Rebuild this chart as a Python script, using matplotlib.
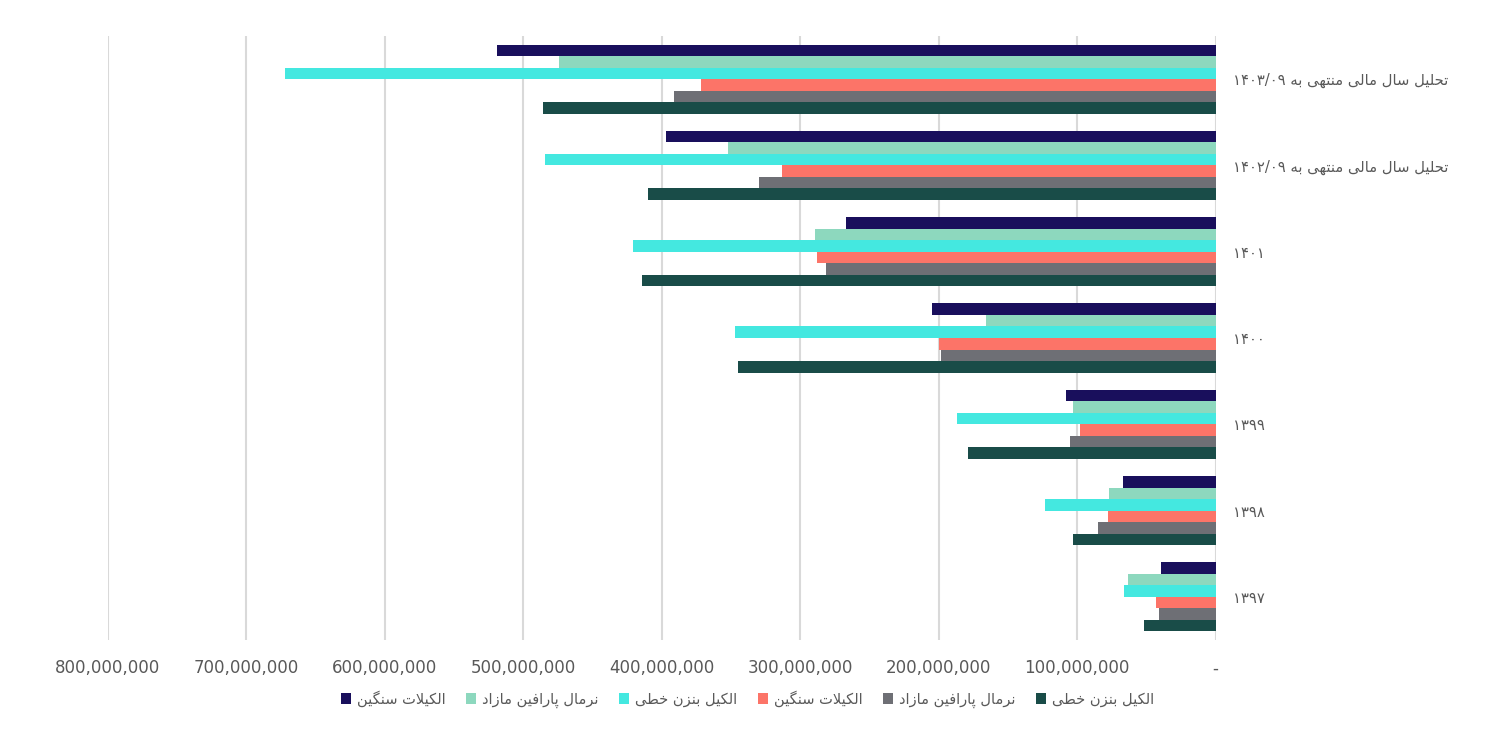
import matplotlib
matplotlib.use("Agg")
import matplotlib.pyplot as plt
import numpy as np

# ---------------- data ----------------
categories = ["۱۳۹۷", "۱۳۹۸", "۱۳۹۹", "۱۴۰۰", "۱۴۰۱",
              "تحلیل سال مالی منتهی به ۱۴۰۲/۰۹",
              "تحلیل سال مالی منتهی به ۱۴۰۳/۰۹"]

series_names = ["الکیل بنزن خطی", "نرمال پارافین مازاد", "الکیلات سنگین",
                "الکیل بنزن خطی", "نرمال پارافین مازاد", "الکیلات سنگین"]

s1_teal   = [52e6, 103e6, 179e6, 345e6, 414e6, 410e6, 486e6]
s2_gray   = [41e6, 85e6, 105e6, 198e6, 281e6, 330e6, 391e6]
s3_salmon = [43e6, 78e6, 98e6, 200e6, 288e6, 313e6, 372e6]
s4_cyan   = [66e6, 123e6, 187e6, 347e6, 421e6, 484e6, 672e6]
s5_mint   = [63e6, 77e6, 103e6, 166e6, 289e6, 352e6, 474e6]
s6_navy   = [39.5e6, 67e6, 108e6, 205e6, 267e6, 397e6, 519e6]

series_values = [s1_teal, s2_gray, s3_salmon, s4_cyan, s5_mint, s6_navy]
colors = ["#194C48", "#6E6F75", "#FC7468", "#44E8E0", "#8DD8BE", "#190F5C"]

xticks = [0, 100e6, 200e6, 300e6, 400e6, 500e6, 600e6, 700e6, 800e6]

# ---------------- simple Persian shaping ----------------
FORMS = {
    '\u0627': ('\uFE8D', '\uFE8E', None, None),
    '\u0628': ('\uFE8F', '\uFE90', '\uFE91', '\uFE92'),
    '\u067E': ('\uFB56', '\uFB57', '\uFB58', '\uFB59'),
    '\u062A': ('\uFE95', '\uFE96', '\uFE97', '\uFE98'),
    '\u062D': ('\uFEA1', '\uFEA2', '\uFEA3', '\uFEA4'),
    '\u062E': ('\uFEA5', '\uFEA6', '\uFEA7', '\uFEA8'),
    '\u062F': ('\uFEA9', '\uFEAA', None, None),
    '\u0631': ('\uFEAD', '\uFEAE', None, None),
    '\u0632': ('\uFEAF', '\uFEB0', None, None),
    '\u0633': ('\uFEB1', '\uFEB2', '\uFEB3', '\uFEB4'),
    '\u0637': ('\uFEC1', '\uFEC2', '\uFEC3', '\uFEC4'),
    '\u0641': ('\uFED1', '\uFED2', '\uFED3', '\uFED4'),
    '\u06A9': ('\uFB8E', '\uFB8F', '\uFB90', '\uFB91'),
    '\u06AF': ('\uFB92', '\uFB93', '\uFB94', '\uFB95'),
    '\u0644': ('\uFEDD', '\uFEDE', '\uFEDF', '\uFEE0'),
    '\u0645': ('\uFEE1', '\uFEE2', '\uFEE3', '\uFEE4'),
    '\u0646': ('\uFEE5', '\uFEE6', '\uFEE7', '\uFEE8'),
    '\u0647': ('\uFEE9', '\uFEEA', '\uFEEB', '\uFEEC'),
    '\u06CC': ('\uFBFC', '\uFBFD', '\uFBFE', '\uFBFF'),
    'LA':     ('\uFEFB', '\uFEFC', None, None),
}


def shape_word(word):
    letters = []
    i = 0
    while i < len(word):
        if word[i] == '\u0644' and i + 1 < len(word) and word[i + 1] == '\u0627':
            letters.append('LA')
            i += 2
        else:
            letters.append(word[i])
            i += 1
    out = []
    for k, ch in enumerate(letters):
        if ch not in FORMS:
            out.append(ch)
            continue
        prev = letters[k - 1] if k > 0 else None
        nxt = letters[k + 1] if k + 1 < len(letters) else None
        jp = prev is not None and prev in FORMS and FORMS[prev][2] is not None
        jn = FORMS[ch][2] is not None and nxt is not None and nxt in FORMS
        f = FORMS[ch]
        if jp and jn:
            out.append(f[3])
        elif jp:
            out.append(f[1])
        elif jn:
            out.append(f[2])
        else:
            out.append(f[0])
    return ''.join(out)


def is_arabic_word(w):
    return any(c in FORMS for c in w)


def visual(text):
    tokens = text.split(' ')
    vis = []
    for t in tokens:
        if is_arabic_word(t):
            vis.append(shape_word(t)[::-1])
        else:
            vis.append(t)
    return ' '.join(vis[::-1])


# ---------------- plot ----------------
plt.rcParams['font.family'] = ['DejaVu Sans']
fig = plt.figure(figsize=(14.95, 7.56), dpi=100)
ax = fig.add_axes([108 / 1495, 1 - 640 / 756, (1215.5 - 108) / 1495, (640 - 36) / 756])

n_series = len(series_values)
group_w = 0.8
bh = group_w / n_series
y = np.arange(len(categories))
for i, (vals, c, name) in enumerate(zip(series_values, colors, series_names)):
    offs = -group_w / 2 + bh * (i + 0.5)
    ax.barh(y + offs, vals, height=bh, color=c, label=visual(name), zorder=3)

ax.set_xlim(800e6, 0)
ax.set_ylim(-0.5, len(categories) - 0.5)
ax.set_xticks(xticks)
ax.set_xticklabels(['-' if v == 0 else f"{v:,.0f}" for v in xticks])
ax.xaxis.grid(True, color="#D9D9D9", linewidth=1.5, zorder=0)
ax.set_axisbelow(True)
for s in ax.spines.values():
    s.set_visible(False)
ax.tick_params(axis='x', length=0, pad=14, labelsize=12, labelcolor="#595959")

ax.yaxis.tick_right()
ax.set_yticks(y)
ax.set_yticklabels([visual(c) for c in categories])
ax.tick_params(axis='y', length=0, pad=12.5, labelsize=10.6, labelcolor="#595959")
for lab in ax.get_yticklabels():
    lab.set_horizontalalignment('left')

handles, labels = ax.get_legend_handles_labels()
handles = handles[::-1]
labels = labels[::-1]
leg = fig.legend(handles, labels, loc='center', bbox_to_anchor=(0.5, 1 - 699 / 756),
                 ncol=6, frameon=False, markerfirst=True, handlelength=0.7,
                 handleheight=0.7, handletextpad=0.4, columnspacing=1.4,
                 fontsize=10.5)
for t in leg.get_texts():
    t.set_color("#595959")

fig.savefig("out.png", dpi=100)
